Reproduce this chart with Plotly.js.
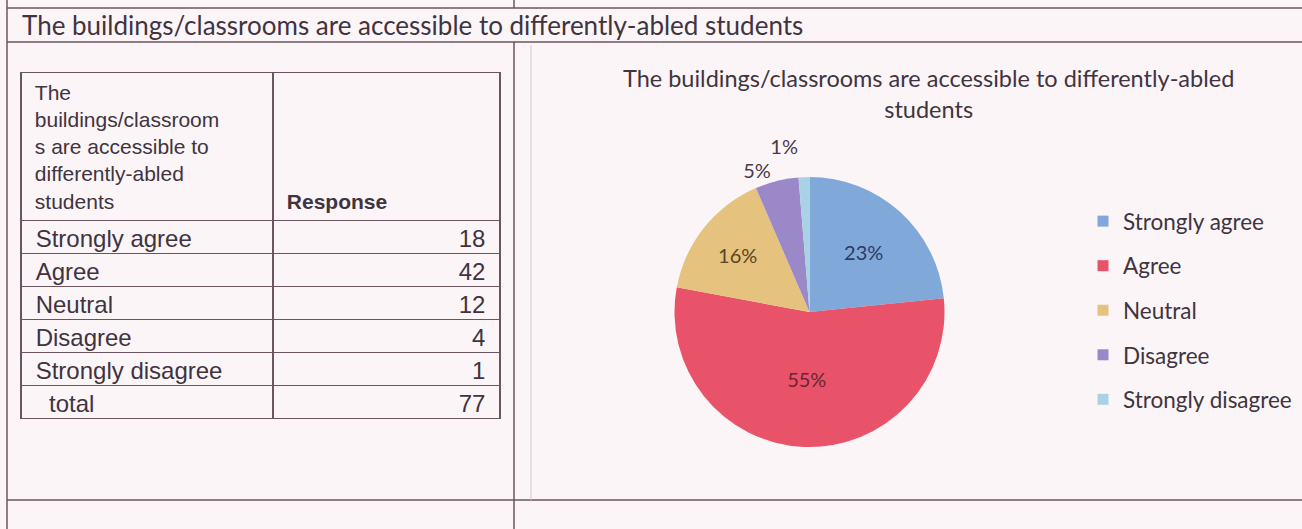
<!DOCTYPE html>
<html><head><meta charset="utf-8">
<script src="https://cdn.plot.ly/plotly-3.0.1.min.js"></script>
<style>html,body{margin:0;padding:0;background:#fcf5f8} .textline{stroke-opacity:0 !important}</style>
</head><body><div id="chart" style="width:1302px;height:529px"></div>
<script>
// ---- data ----
const chartTitle = "The buildings/classrooms are accessible to differently-abled students";
const pieTitle = "The buildings/classrooms are accessible to differently-abled<br>students";
const tableHeaderCol1 = ["The", "buildings/classroom", "s are accessible to", "differently-abled", "students"];
const tableHeaderCol2 = "Response";
const categories = ["Strongly agree", "Agree", "Neutral", "Disagree", "Strongly disagree"];
const responses = [18, 42, 12, 4, 1];
const totalLabel = "total";

// ---- style ----
const sliceColors = ["#80a9da", "#e9536a", "#e5c27e", "#9a88c9", "#a9d2e6"];
const labelColors = ["#2c3b63", "#6a2433", "#5a4526", "#4a3a48", "#4a3a48"];
const textColor = "#3f3440";
const lineColor = "#6b5563";
const W = 1302, H = 529;
const px = x => x / W, py = y => 1 - y / H;
const NB = "\u00a0";

const total = responses.reduce((a, b) => a + b, 0);
const col1 = categories.map(c => NB + c).concat([NB + NB + NB + totalLabel]);
const col2 = responses.concat([total]).map(v => v + NB);
const headerCol1 = tableHeaderCol1.map(s => NB + s).join("<br>");
const headerCol2 = [NB, NB, NB, NB].join("<br>") + "<br>" + NB + "<b>" + tableHeaderCol2 + "</b>";

const tableTrace = {
  type: 'table',
  domain: {x: [px(21), px(500)], y: [py(421), py(72.5)]},
  columnwidth: [252, 227],
  header: {
    values: [[headerCol1], [headerCol2]],
    align: ['left', 'left'],
    height: 143,
    fill: {color: 'rgba(0,0,0,0)'},
    line: {color: lineColor, width: 1.5},
    font: {family: 'Liberation Sans, Arial', size: 21, color: textColor}
  },
  cells: {
    values: [col1, col2],
    align: ['left', 'right'],
    height: 33,
    fill: {color: 'rgba(0,0,0,0)'},
    line: {color: lineColor, width: 1.5},
    font: {family: 'Liberation Sans, Arial', size: 24, color: textColor}
  }
};

const pieTrace = {
  type: 'pie',
  values: responses,
  labels: categories,
  sort: false,
  direction: 'clockwise',
  rotation: 0,
  marker: {colors: sliceColors},
  texttemplate: '%{percent:.0%}',
  textposition: ['inside', 'inside', 'inside', 'outside', 'outside'],
  insidetextorientation: 'horizontal',
  textfont: {family: 'Lato', size: 20, color: labelColors},
  domain: {x: [px(673), px(946)], y: [py(447), py(177)]},
  showlegend: false,
  hoverinfo: 'label+value+percent'
};

const legendTraces = categories.map((c, i) => ({
  type: 'scatter', x: [null], y: [null], mode: 'markers', name: c,
  legendgroup: 'g' + i,
  marker: {symbol: 'square', size: 11, color: sliceColors[i]},
  hoverinfo: 'skip'
}));

const lineShape = (x0, y0, x1, y1, w, c) => ({
  type: 'line', xref: 'paper', yref: 'paper',
  x0: px(x0), y0: py(y0), x1: px(x1), y1: py(y1),
  line: {color: c || lineColor, width: w || 1.5}
});

const layout = {
  width: W, height: H,
  margin: {l: 0, r: 0, t: 0, b: 0},
  paper_bgcolor: '#fcf5f8',
  plot_bgcolor: 'rgba(0,0,0,0)',
  xaxis: {visible: false},
  yaxis: {visible: false},
  title: {
    text: chartTitle, x: px(22), xanchor: 'left', y: py(26), yanchor: 'middle',
    xref: 'paper', yref: 'paper',
    font: {family: 'Lato', size: 26, color: textColor}
  },
  legend: {
    x: px(1083), xanchor: 'left', y: py(200), yanchor: 'top',
    tracegroupgap: 12.3,
    font: {family: 'Lato', size: 22.5, color: textColor},
    bgcolor: 'rgba(0,0,0,0)'
  },
  annotations: [{
    text: pieTitle, xref: 'paper', yref: 'paper', x: px(928), y: py(93),
    xanchor: 'center', yanchor: 'middle', showarrow: false, align: 'center',
    font: {family: 'Lato', size: 23.5, color: textColor}
  }],
  shapes: [
    lineShape(7, 8, W, 8),
    lineShape(7, 42, W, 42),
    lineShape(7, 500, W, 500),
    lineShape(7, 0, 7, H),
    lineShape(514, 0, 514, 8),
    lineShape(514, 42, 514, H),
    lineShape(531, 45, 531, 500, 1, '#d6c4cf')
  ]
};

Plotly.newPlot('chart', [tableTrace, pieTrace].concat(legendTraces), layout, {displayModeBar: false, staticPlot: true});
</script></body></html>
